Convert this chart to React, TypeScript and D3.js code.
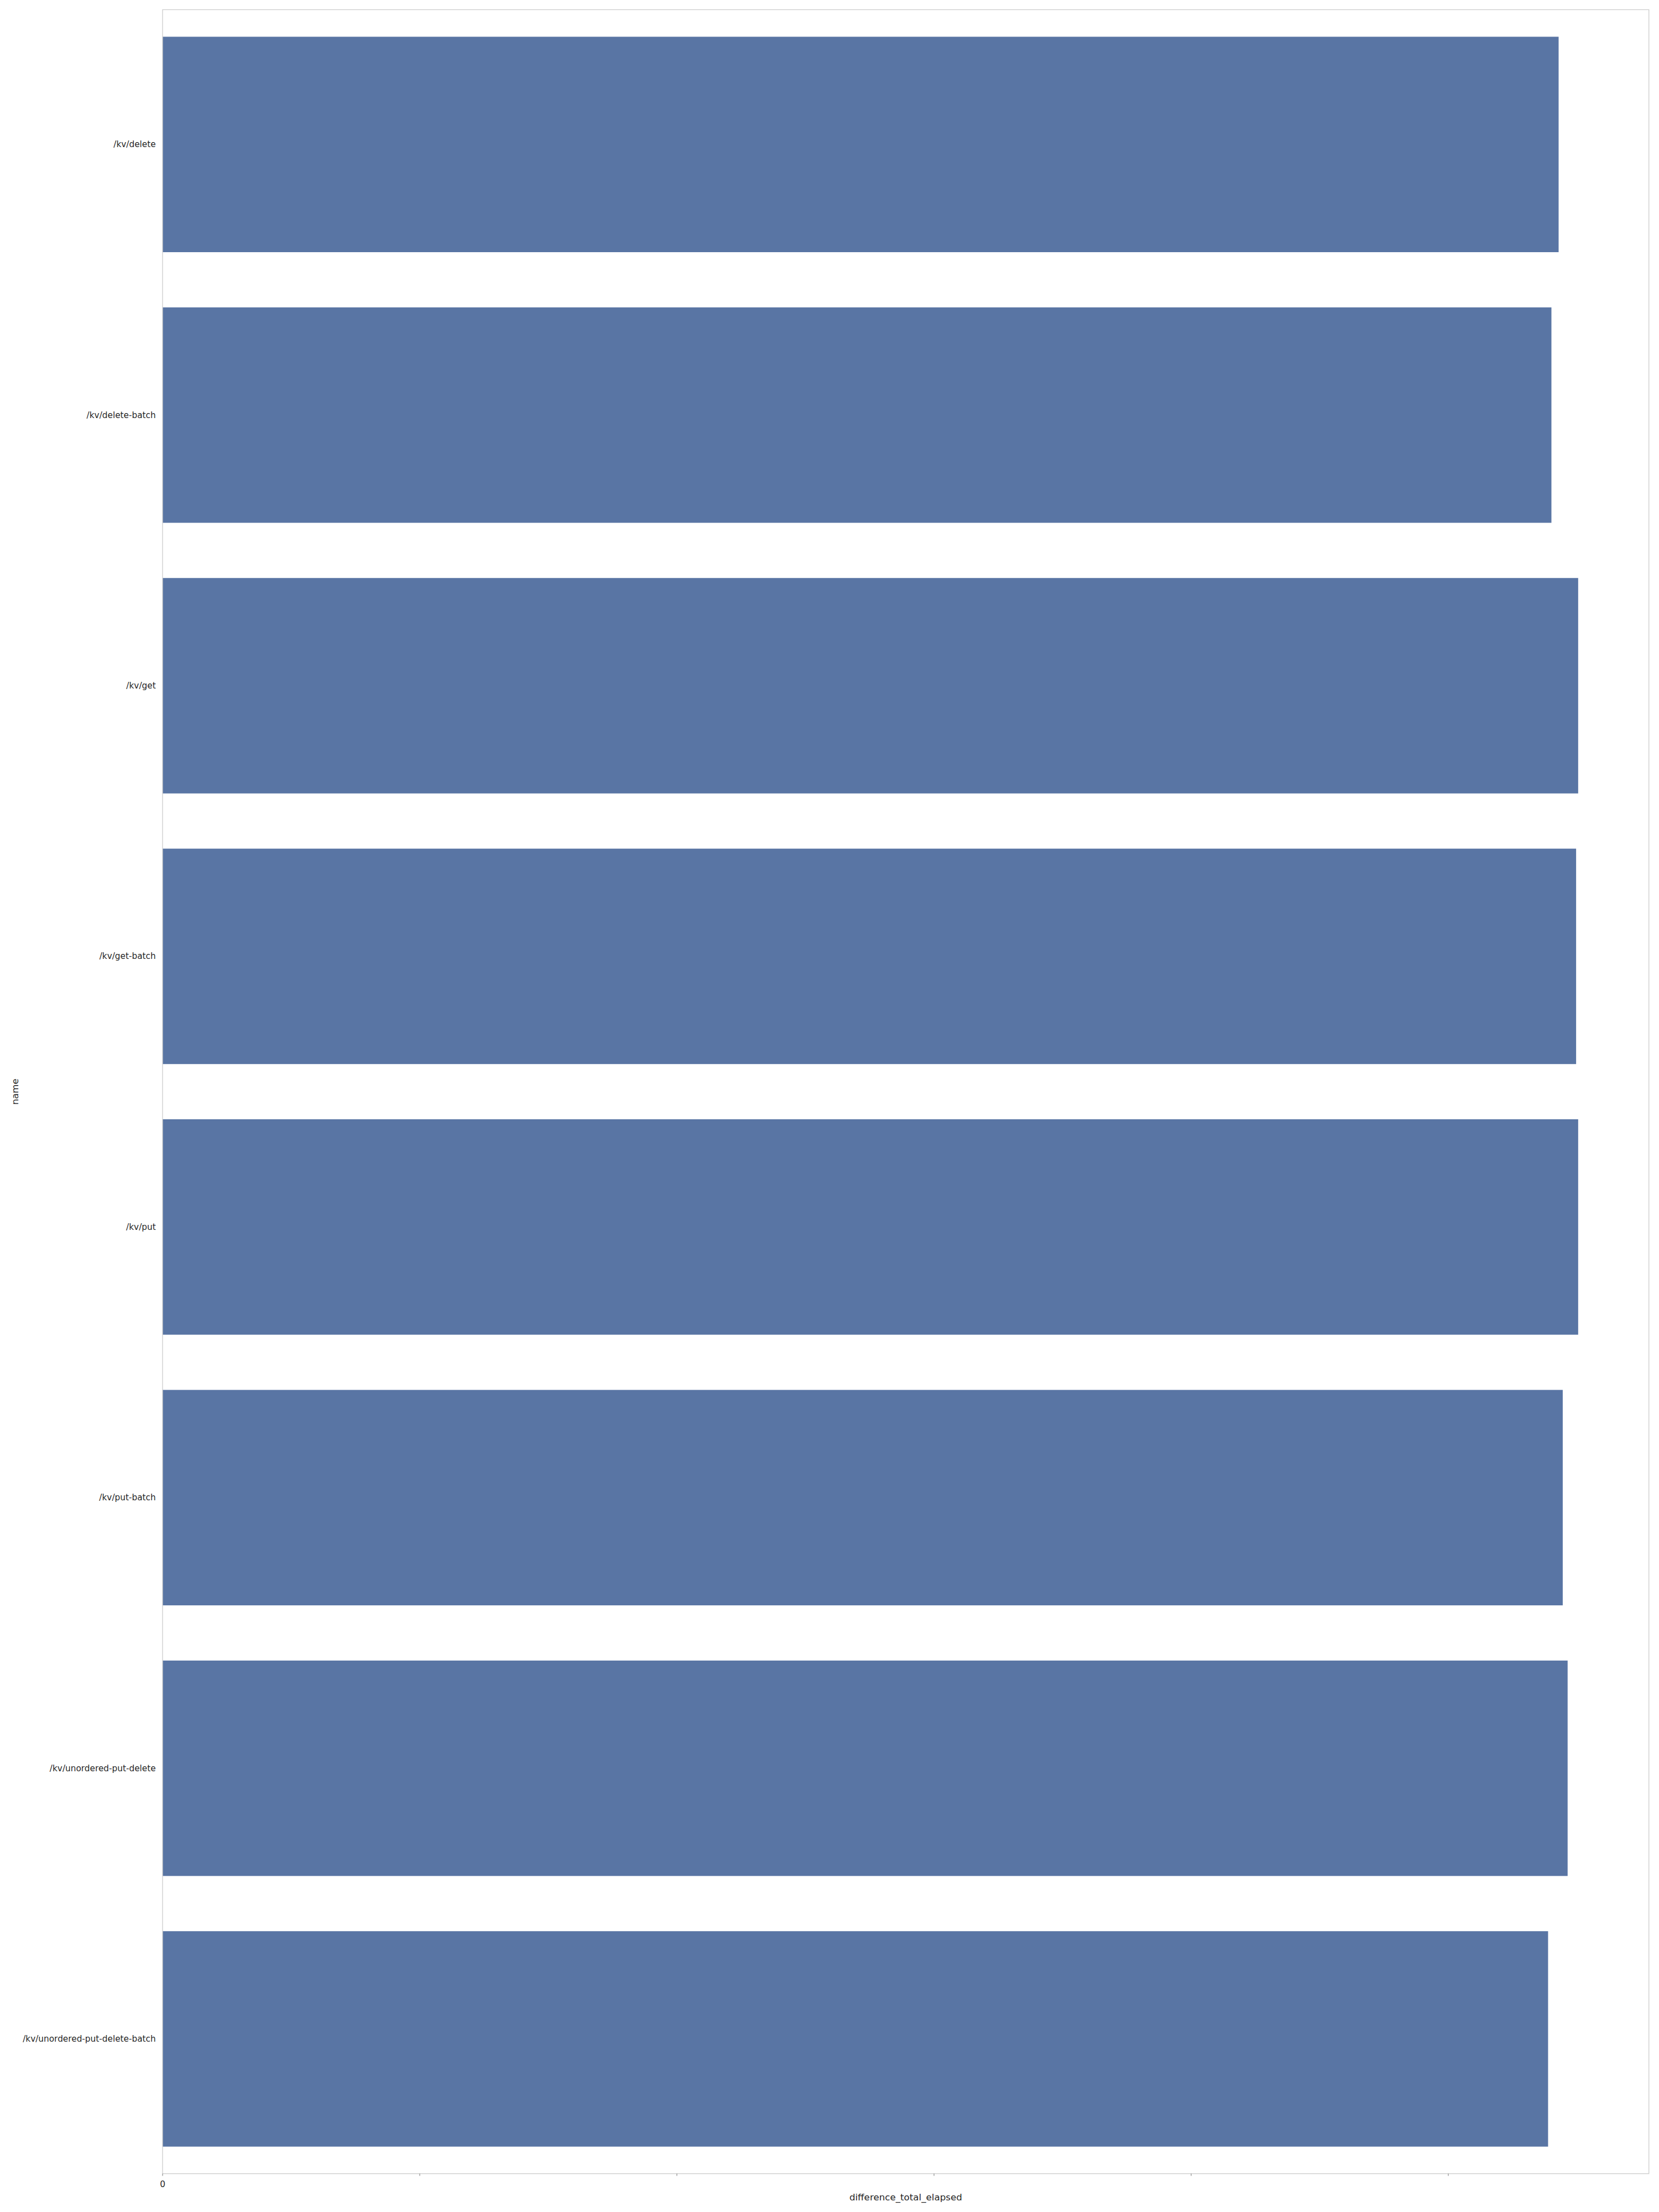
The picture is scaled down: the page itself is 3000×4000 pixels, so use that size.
import React from "react";
import * as d3 from "d3";

const categories: string[] = [
  "/kv/delete",
  "/kv/delete-batch",
  "/kv/get",
  "/kv/get-batch",
  "/kv/put",
  "/kv/put-batch",
  "/kv/unordered-put-delete",
  "/kv/unordered-put-delete-batch",
];

// difference_total_elapsed (units of one x tick step; only "0" is labelled)
const values: number[] = [5.429, 5.401, 5.505, 5.497, 5.505, 5.445, 5.464, 5.388];

const xTicks: number[] = [0, 1, 2, 3, 4, 5];
const xTickLabels: string[] = ["0", "", "", "", "", ""];
const xDomainMax = 5.78;

const xLabel = "difference_total_elapsed";
const yLabel = "name";

const W = 3000;
const H = 4000;
const margin = { left: 294, right: 3000 - 2981.7, top: 17.5, bottom: 4000 - 3930.7 };

export default function App() {
  const x = d3
    .scaleLinear()
    .domain([0, xDomainMax])
    .range([margin.left, W - margin.right]);
  const y = d3
    .scaleBand<string>()
    .domain(categories)
    .range([margin.top, H - margin.bottom])
    .paddingInner(0.204)
    .paddingOuter(0.1);

  const font = "'DejaVu Sans', sans-serif";
  const fs = 15.3;
  const fsLabel = 16.7;
  const plotL = margin.left;
  const plotR = W - margin.right;
  const plotT = margin.top;
  const plotB = H - margin.bottom;
  const spine = "#cccccc";

  return (
    <svg
      width={W}
      height={H}
      style={{ position: "absolute", left: 0, top: 0, display: "block", background: "#fff" }}
      fontFamily={font}
    >
      <rect x={0} y={0} width={W} height={H} fill="#ffffff" />
      {categories.map((c, i) => (
        <rect
          key={c}
          x={x(0)}
          y={y(c)!}
          width={x(values[i]) - x(0)}
          height={y.bandwidth()}
          fill="#5975a4"
        />
      ))}
      {/* spines */}
      <rect
        x={plotL}
        y={plotT}
        width={plotR - plotL}
        height={plotB - plotT}
        fill="none"
        stroke={spine}
        strokeWidth={1.3}
      />
      {/* x ticks */}
      {xTicks.map((t, i) => (
        <g key={"xt" + i}>
          <line x1={x(t)} x2={x(t)} y1={plotB} y2={plotB + 4} stroke="#555" strokeWidth={0.8} />
          <text
            x={x(t)}
            y={plotB + 24}
            textAnchor="middle"
            fontSize={fs}
            fill="#262626"
          >
            {xTickLabels[i]}
          </text>
        </g>
      ))}
      {/* y tick labels */}
      {categories.map((c) => (
        <text
          key={"yl" + c}
          x={plotL - 12.3}
          y={y(c)! + y.bandwidth() / 2}
          textAnchor="end"
          dominantBaseline="central"
          fontSize={fs}
          fill="#262626"
        >
          {c}
        </text>
      ))}
      {/* axis labels */}
      <text
        x={(plotL + plotR) / 2}
        y={3979}
        textAnchor="middle"
        fontSize={fsLabel}
        fill="#262626"
      >
        {xLabel}
      </text>
      <text
        transform={`translate(${33}, ${(plotT + plotB) / 2}) rotate(-90)`}
        textAnchor="middle"
        fontSize={fsLabel}
        fill="#262626"
      >
        {yLabel}
      </text>
    </svg>
  );
}
